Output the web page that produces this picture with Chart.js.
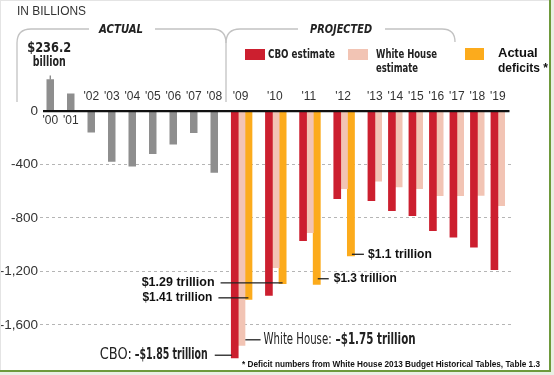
<!DOCTYPE html>
<html><head><meta charset="utf-8">
<script src="https://cdn.jsdelivr.net/npm/chart.js@4/dist/chart.umd.min.js"></script>
<style>html,body{margin:0;padding:0;background:#fff;}#wrap{width:554px;height:375px;position:relative;}canvas{display:block;}</style>
</head><body><div id="wrap"><canvas id="c" width="554" height="375"></canvas></div>
<script>
// ---- data (in billions of dollars) ----
const actualYears = ["'00","'01","'02","'03","'04","'05","'06","'07","'08"];
const actualValues = [236.2, 128.2, -157.8, -377.6, -412.7, -318.3, -248.2, -160.7, -458.6];
const projYears = ["'09","'10","'11","'12","'13","'14","'15","'16","'17","'18","'19"];
const cboValues = [-1850, -1383, -972, -658, -673, -748, -785, -897, -947, -1022, -1189];
const whValues = [-1757, -1174, -912, -583, -528, -571, -583, -636, -636, -633, -711];
const actualDeficitYears = ["'09","'10","'11","'12"];
const actualDeficitValues = [-1413, -1294, -1300, -1087];
const yTicks = [0, -400, -800, -1200, -1600];

const COLORS = {past:'#8e8e8e', cbo:'#cc1f2f', wh:'#f2c4b4', act:'#fcab1c'};

// ---- build slot table for the category axis ----
const slotLabels = [], gray = [], red = [], pink = [], orange = [];
const yearSlot = {};
function push(label, g, r, p, o){
  slotLabels.push(label); gray.push(g); red.push(r); pink.push(p); orange.push(o);
  return slotLabels.length - 1;
}
push('', null, null, null, null);
actualYears.forEach((y, i) => {
  const s = push(y, actualValues[i], null, null, null);
  yearSlot[y] = {bar: s};
  push('', null, null, null, null); push('', null, null, null, null);
});
projYears.forEach((y, i) => {
  const k = actualDeficitYears.indexOf(y);
  const rs = push(y + ' CBO', null, cboValues[i], null, null);
  const ps = push(y + ' WH', null, null, whValues[i], null);
  let os = null;
  if (k >= 0) {
    os = push(y + ' actual', null, null, null, actualDeficitValues[k]);
    push('', null, null, null, null); push('', null, null, null, null);
  } else {
    push('', null, null, null, null);
  }
  yearSlot[y] = {red: rs, pink: ps, orange: os};
});

const NARROW = '"Liberation Sans Narrow","DejaVu Sans Condensed","Liberation Sans",Arial,sans-serif';
const SANS = '"Liberation Sans",Arial,sans-serif';

function txt(ctx, s, x, y, font, color, align, maxW){
  ctx.font = font; ctx.fillStyle = color; ctx.textAlign = align || 'left'; ctx.textBaseline = 'middle';
  if (maxW) ctx.fillText(s, x, y, maxW); else ctx.fillText(s, x, y);
}
function line(ctx, x1, y1, x2, y2, color, w){
  ctx.beginPath(); ctx.strokeStyle = color; ctx.lineWidth = w; ctx.moveTo(x1, y1); ctx.lineTo(x2, y2); ctx.stroke();
}

const decor = {
  id: 'decor',
  beforeDraw(chart){
    const ctx = chart.ctx;
    ctx.save(); ctx.fillStyle = '#fff'; ctx.fillRect(0, 0, chart.width, chart.height); ctx.restore();
  },
  afterDatasetsDraw(chart){
    const ctx = chart.ctx, ys = chart.scales.y, ca = chart.chartArea;
    ctx.save();
    const y0 = ys.getPixelForValue(0);
    line(ctx, ca.left + 3, y0, ca.right - 2, y0, '#111', 2.2);
    ctx.restore();
  },
  afterDraw(chart){
    const ctx = chart.ctx, ys = chart.scales.y;
    const el = (ds, slot) => chart.getDatasetMeta(ds).data[slot];
    ctx.save();
    // frame
    line(ctx, 0, 0.5, 554, 0.5, '#e4e4e4', 1);
    line(ctx, 0.5, 0, 0.5, 372, '#e4e4e4', 1);
    ctx.fillStyle = '#e9efe4'; ctx.fillRect(0, 372, 554, 3); ctx.fillRect(551, 0, 3, 375);
    line(ctx, 550, 0, 550, 372, '#6e9a3c', 2);
    line(ctx, 0, 371, 551, 371, '#6e9a3c', 2);

    // title
    txt(ctx, 'IN BILLIONS', 17, 12, '12px ' + SANS, '#333', 'left', 69);

    // brackets
    ctx.strokeStyle = '#c2c2c2'; ctx.lineWidth = 1.3;
    ctx.beginPath(); ctx.moveTo(17, 102); ctx.lineTo(17, 43); ctx.quadraticCurveTo(17, 29, 31, 29); ctx.lineTo(89, 29); ctx.stroke();
    ctx.beginPath(); ctx.moveTo(155, 29); ctx.lineTo(212, 29); ctx.quadraticCurveTo(226, 29, 226, 43); ctx.lineTo(226, 102); ctx.stroke();
    ctx.beginPath(); ctx.moveTo(226, 43); ctx.quadraticCurveTo(226, 29, 240, 29); ctx.lineTo(298, 29); ctx.stroke();
    ctx.beginPath(); ctx.moveTo(385, 29); ctx.lineTo(442, 29); ctx.quadraticCurveTo(455, 29, 455, 42); ctx.stroke();
    txt(ctx, 'ACTUAL', 121, 30, 'italic bold 13px ' + NARROW, '#222', 'center', 44);
    txt(ctx, 'PROJECTED', 341, 30, 'italic bold 13px ' + NARROW, '#222', 'center', 62);

    // legend
    ctx.fillStyle = COLORS.cbo; ctx.fillRect(245, 49, 20, 11);
    txt(ctx, 'CBO estimate', 268, 55, 'bold 12.5px ' + NARROW, '#222', 'left', 67);
    ctx.fillStyle = COLORS.wh; ctx.fillRect(348, 49, 20, 11);
    txt(ctx, 'White House', 376, 55, 'bold 12.5px ' + NARROW, '#222', 'left', 61);
    txt(ctx, 'estimate', 376, 69, 'bold 12.5px ' + NARROW, '#222', 'left', 42);
    ctx.fillStyle = COLORS.act; ctx.fillRect(465, 48, 19, 12);
    txt(ctx, 'Actual', 498, 53, 'bold 13px ' + SANS, '#111', 'left', 40);
    txt(ctx, 'deficits *', 498, 68, 'bold 13px ' + SANS, '#111', 'left', 50);

    // year labels
    const y0 = ys.getPixelForValue(0);
    actualYears.forEach((y, i) => {
      const e = el(0, yearSlot[y].bar);
      const above = actualValues[i] < 0;
      txt(ctx, y, e.x, above ? y0 - 14 : y0 + 10, '12px ' + SANS, '#333', 'center');
    });
    projYears.forEach(y => {
      const s = yearSlot[y];
      const er = el(1, s.red), ep = el(2, s.pink);
      const cx = s.orange !== null ? ep.x - 1 : (er.x + ep.x) / 2;
      txt(ctx, y, cx, y0 - 14, '12px ' + SANS, '#333', 'center');
    });

    // $236.2 billion
    const e00 = el(0, yearSlot["'00"].bar);
    line(ctx, e00.x, e00.y - 4, e00.x, e00.y, '#777', 1.2);
    txt(ctx, '$' + actualValues[0], e00.x - 1, e00.y - 31, 'bold 14px ' + NARROW, '#222', 'center', 44);
    txt(ctx, 'billion', e00.x - 1, e00.y - 17, 'bold 14px ' + NARROW, '#222', 'center', 33);

    // CBO 2009
    const s09 = yearSlot["'09"];
    const r09 = el(1, s09.red), p09 = el(2, s09.pink), o09 = el(3, s09.orange);
    line(ctx, r09.x - 20, r09.y - 3, r09.x - 3, r09.y - 3, '#222', 1.3);
    txt(ctx, '–$1.85 trillion', r09.x - 27, r09.y - 3, 'bold 15px ' + NARROW, '#222', 'right', 73);
    txt(ctx, 'CBO:', r09.x - 103, r09.y - 3, '15px ' + NARROW, '#222', 'right', 32);
    // White House 2009
    line(ctx, p09.x + p09.width / 2, p09.y - 6, p09.x + 19, p09.y - 6, '#222', 1.3);
    txt(ctx, 'White House:', p09.x + 22, p09.y - 6, '15px ' + NARROW, '#222', 'left', 68);
    txt(ctx, '–$1.75 trillion', p09.x + 94, p09.y - 6, 'bold 15px ' + NARROW, '#222', 'left', 80);
    // actual 2009
    line(ctx, o09.x - 30, o09.y - 2, o09.x, o09.y - 2, '#222', 1.3);
    txt(ctx, '$1.41 trillion', o09.x - 36, o09.y - 2, 'bold 12.5px ' + SANS, '#111', 'right', 70);
    // actual 2010
    const o10 = el(3, yearSlot["'10"].orange);
    line(ctx, o10.x - 62, o10.y - 1, o10.x, o10.y - 1, '#222', 1.3);
    txt(ctx, '$1.29 trillion', o10.x - 68, o10.y - 1, 'bold 12.5px ' + SANS, '#111', 'right', 73);
    // actual 2011
    const o11 = el(3, yearSlot["'11"].orange);
    line(ctx, o11.x + 1, o11.y - 6, o11.x + 12, o11.y - 6, '#222', 1.3);
    txt(ctx, '$1.3 trillion', o11.x + 17, o11.y - 6, 'bold 12.5px ' + SANS, '#111', 'left', 63);
    // actual 2012
    const o12 = el(3, yearSlot["'12"].orange);
    line(ctx, o12.x + 1, o12.y - 2, o12.x + 13, o12.y - 2, '#222', 1.3);
    txt(ctx, '$1.1 trillion', o12.x + 17, o12.y - 2, 'bold 12.5px ' + SANS, '#111', 'left', 64);

    // footnote
    txt(ctx, '* Deficit numbers from White House 2013 Budget Historical Tables, Table 1.3', 242, 365, 'bold 8.5px ' + SANS, '#111', 'left', 298);
    ctx.restore();
  }
};

const common = {categoryPercentage: 1, borderWidth: 0, skipNull: true};
new Chart(document.getElementById('c'), {
  type: 'bar',
  data: {
    labels: slotLabels,
    datasets: [
      Object.assign({label: 'Actual (2000–2008)', data: gray, backgroundColor: COLORS.past, barPercentage: 1.0}, common),
      Object.assign({label: 'CBO estimate', data: red, backgroundColor: COLORS.cbo, barPercentage: 1.12}, common),
      Object.assign({label: 'White House estimate', data: pink, backgroundColor: COLORS.wh, barPercentage: 1.1}, common),
      Object.assign({label: 'Actual deficits *', data: orange, backgroundColor: COLORS.act, barPercentage: 1.15}, common)
    ]
  },
  options: {
    responsive: false, animation: false,
    layout: {padding: {left: 0, right: 42.5, top: 71, bottom: 10}},
    plugins: {legend: {display: false}, tooltip: {enabled: false}},
    scales: {
      x: {display: false, stacked: true},
      y: {
        min: -1900, max: 300,
        afterFit(scale){ scale.width = 40; },
        afterBuildTicks(scale){ scale.ticks = yTicks.map(v => ({value: v})); },
        ticks: {
          padding: 2, color: '#333', font: {family: SANS, size: 13.5},
          callback: v => v === 0 ? '0' : v.toLocaleString('en-US')
        },
        border: {display: false, dash: [3, 3]},
        grid: {drawTicks: false, color: ctx => ctx.tick && ctx.tick.value === 0 ? 'rgba(0,0,0,0)' : '#b5b5b5', lineWidth: 1}
      }
    }
  },
  plugins: [decor]
});
</script>
</body></html>
